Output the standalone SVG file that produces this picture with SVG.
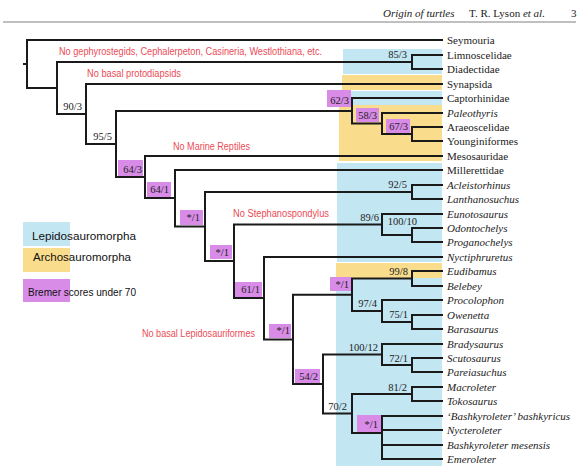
<svg xmlns="http://www.w3.org/2000/svg" width="588" height="471" viewBox="0 0 588 471">
<style>
.bg{fill:#fff}
.blue{fill:#c3e6f3}
.yellow{fill:#fadd8c}
.mag{fill:#d98be8}
.br{stroke:#1a1a1a;stroke-width:2;fill:none;stroke-linecap:square}
.tx{font-family:"Liberation Serif",serif;font-size:11px;fill:#222}
.it{font-style:italic}
.bs{font-family:"Liberation Serif",serif;font-size:10.5px;fill:#222;text-anchor:end}
.red{font-family:"Liberation Sans",sans-serif;font-size:10px;fill:#ec4b55}
.leg{font-family:"Liberation Sans",sans-serif;font-size:11px;fill:#111}
.hd{font-family:"Liberation Serif",serif;font-size:11px;fill:#222}
</style>
<rect class="bg" x="0" y="0" width="588" height="471"/>
<g id="header">
<text class="hd" x="383" y="17"><tspan font-style="italic">Origin of turtles</tspan></text>
<text class="hd" x="469" y="17">T. R. Lyson <tspan font-style="italic">et al.</tspan></text>
<text class="hd" x="571" y="17">3</text>
<line x1="3" y1="22" x2="576" y2="22" stroke="#808080" stroke-width="1"/>
</g>
<g id="backgrounds">
<rect class="blue" x="343" y="49" width="99" height="25"/>
<rect class="yellow" x="342" y="75" width="100" height="15"/>
<rect class="blue" x="342" y="91" width="100" height="14"/>
<rect class="yellow" x="339" y="105" width="103" height="56"/>
<rect class="blue" x="337" y="163" width="105" height="99"/>
<rect class="yellow" x="336" y="263" width="106" height="15"/>
<rect class="blue" x="336" y="278" width="106" height="188"/>
</g>
<g id="connectors">
<path class="br" d="M24,64 H27 M27,40 V88 M27,40 H442 M27,88 H57"/>
<path class="br" d="M57,62 V114 M57,62 H412 M57,114 H86"/>
<path class="br" d="M412,55 V69 M412,55 H442 M412,69 H442"/>
<path class="br" d="M86,84 V144 M86,84 H442 M86,144 H116"/>
<path class="br" d="M116,111 V177 M116,111 H352 M116,177 H145"/>
<path class="br" d="M352,98 V123.5 M352,98 H442 M352,123.5 H382"/>
<path class="br" d="M382,113 V134 M382,113 H442 M382,134 H412"/>
<path class="br" d="M412,127 V141 M412,127 H442 M412,141 H442"/>
<path class="br" d="M145,156 V198 M145,156 H442 M145,198 H175"/>
<path class="br" d="M175,170 V226.5 M175,170 H442 M175,226.5 H205"/>
<path class="br" d="M205,192 V261 M205,192 H412 M205,261 H234"/>
<path class="br" d="M412,185 V199 M412,185 H442 M412,199 H442"/>
<path class="br" d="M234,224.5 V298 M234,224.5 H382 M234,298 H264"/>
<path class="br" d="M382,214 V235 M382,214 H442 M382,235 H412"/>
<path class="br" d="M412,228 V242 M412,228 H442 M412,242 H442"/>
<path class="br" d="M264,257 V339.5 M264,257 H442 M264,339.5 H293"/>
<path class="br" d="M293,294.75 V384 M293,294.75 H352 M293,384 H323"/>
<path class="br" d="M352,278.5 V311 M352,278.5 H412 M352,311 H382"/>
<path class="br" d="M412,271 V286 M412,271 H442 M412,286 H442"/>
<path class="br" d="M382,300 V322 M382,300 H442 M382,322 H412"/>
<path class="br" d="M412,315 V329 M412,315 H442 M412,329 H442"/>
<path class="br" d="M323,354.5 V413.5 M323,354.5 H382 M323,413.5 H352"/>
<path class="br" d="M382,344 V365 M382,344 H442 M382,365 H412"/>
<path class="br" d="M412,358 V372 M412,358 H442 M412,372 H442"/>
<path class="br" d="M352,394 V433 M352,394 H412 M352,433 H382"/>
<path class="br" d="M412,387 V401 M412,387 H442 M412,401 H442"/>
<path class="br" d="M382,416 V459 M382,416 H442 M382,430 H442 M382,445 H442 M382,459 H442"/>
</g>
<g id="support">
<g id="n-limno"><text class="bs" x="407" y="58">85/3</text></g>
<g id="n-2"><text class="bs" x="82" y="110">90/3</text></g>
<g id="n-3"><text class="bs" x="112" y="140">95/5</text></g>
<g id="n-62"><rect class="mag" x="327" y="90" width="24" height="17"/><text class="bs" x="349" y="104">62/3</text></g>
<g id="n-58"><rect class="mag" x="356" y="108" width="23" height="14"/><text class="bs" x="377" y="119">58/3</text></g>
<g id="n-67"><rect class="mag" x="386" y="119" width="24" height="14"/><text class="bs" x="408" y="130">67/3</text></g>
<g id="n-64a"><rect class="mag" x="118" y="160" width="25" height="16"/><text class="bs" x="142" y="173">64/3</text></g>
<g id="n-64b"><rect class="mag" x="147" y="182" width="24" height="15"/><text class="bs" x="169" y="193">64/1</text></g>
<g id="n-s1"><rect class="mag" x="180" y="210" width="23" height="15"/><text class="bs" x="200" y="221">*/1</text></g>
<g id="n-s2"><rect class="mag" x="210" y="245" width="22" height="14"/><text class="bs" x="229" y="256">*/1</text></g>
<g id="n-61"><rect class="mag" x="235" y="282" width="27" height="15"/><text class="bs" x="260" y="293">61/1</text></g>
<g id="n-s3"><rect class="mag" x="269" y="324" width="22" height="14"/><text class="bs" x="290" y="334">*/1</text></g>
<g id="n-s4"><rect class="mag" x="330" y="277" width="21" height="14"/><text class="bs" x="349" y="288">*/1</text></g>
<g id="n-54"><rect class="mag" x="295" y="369" width="25" height="14"/><text class="bs" x="318" y="380">54/2</text></g>
<g id="n-s5"><rect class="mag" x="357" y="415" width="24" height="17"/><text class="bs" x="378" y="428">*/1</text></g>
<g id="n-92"><text class="bs" x="407" y="188">92/5</text></g>
<g id="n-89"><text class="bs" x="379" y="221">89/6</text></g>
<g id="n-100a"><text class="bs" x="417" y="225">100/10</text></g>
<g id="n-99"><text class="bs" x="408" y="275">99/8</text></g>
<g id="n-97"><text class="bs" x="377" y="307">97/4</text></g>
<g id="n-75"><text class="bs" x="408" y="318">75/1</text></g>
<g id="n-100b"><text class="bs" x="378" y="351">100/12</text></g>
<g id="n-72"><text class="bs" x="408" y="362">72/1</text></g>
<g id="n-81"><text class="bs" x="407" y="391">81/2</text></g>
<g id="n-70"><text class="bs" x="347" y="410">70/2</text></g>
</g>
<g id="taxa">
<g id="t-seymouria"><text class="tx" x="447" y="44">Seymouria</text></g>
<g id="t-limnoscelidae"><text class="tx" x="447" y="59">Limnoscelidae</text></g>
<g id="t-diadectidae"><text class="tx" x="447" y="73">Diadectidae</text></g>
<g id="t-synapsida"><text class="tx" x="447" y="88">Synapsida</text></g>
<g id="t-captorhinidae"><text class="tx" x="447" y="102">Captorhinidae</text></g>
<g id="t-paleothyris"><text class="tx it" x="447" y="117">Paleothyris</text></g>
<g id="t-araeoscelidae"><text class="tx" x="447" y="131">Araeoscelidae</text></g>
<g id="t-younginiformes"><text class="tx" x="447" y="145">Younginiformes</text></g>
<g id="t-mesosauridae"><text class="tx" x="447" y="160">Mesosauridae</text></g>
<g id="t-millerettidae"><text class="tx" x="447" y="174">Millerettidae</text></g>
<g id="t-acleistorhinus"><text class="tx it" x="447" y="189">Acleistorhinus</text></g>
<g id="t-lanthanosuchus"><text class="tx it" x="447" y="203">Lanthanosuchus</text></g>
<g id="t-eunotosaurus"><text class="tx it" x="447" y="218">Eunotosaurus</text></g>
<g id="t-odontochelys"><text class="tx it" x="447" y="232">Odontochelys</text></g>
<g id="t-proganochelys"><text class="tx it" x="447" y="246">Proganochelys</text></g>
<g id="t-nyctiphruretus"><text class="tx it" x="447" y="261">Nyctiphruretus</text></g>
<g id="t-eudibamus"><text class="tx it" x="447" y="275">Eudibamus</text></g>
<g id="t-belebey"><text class="tx it" x="447" y="290">Belebey</text></g>
<g id="t-procolophon"><text class="tx it" x="447" y="304">Procolophon</text></g>
<g id="t-owenetta"><text class="tx it" x="447" y="319">Owenetta</text></g>
<g id="t-barasaurus"><text class="tx it" x="447" y="333">Barasaurus</text></g>
<g id="t-bradysaurus"><text class="tx it" x="447" y="348">Bradysaurus</text></g>
<g id="t-scutosaurus"><text class="tx it" x="447" y="362">Scutosaurus</text></g>
<g id="t-pareiasuchus"><text class="tx it" x="447" y="376">Pareiasuchus</text></g>
<g id="t-macroleter"><text class="tx it" x="447" y="391">Macroleter</text></g>
<g id="t-tokosaurus"><text class="tx it" x="447" y="405">Tokosaurus</text></g>
<g id="t-bashkyricus"><text class="tx it" x="447" y="420">‘Bashkyroleter’ bashkyricus</text></g>
<g id="t-nycteroleter"><text class="tx it" x="447" y="434">Nycteroleter</text></g>
<g id="t-mesensis"><text class="tx it" x="447" y="449">Bashkyroleter mesensis</text></g>
<g id="t-emeroleter"><text class="tx it" x="447" y="463">Emeroleter</text></g>
</g>
<g id="annotations">
<text class="red" x="59" y="55" textLength="263" lengthAdjust="spacingAndGlyphs">No gephyrostegids, Cephalerpeton, Casineria, Westlothiana, etc.</text>
<text class="red" x="87" y="77" textLength="94" lengthAdjust="spacingAndGlyphs">No basal protodiapsids</text>
<text class="red" x="173" y="150" textLength="77" lengthAdjust="spacingAndGlyphs">No Marine Reptiles</text>
<text class="red" x="233" y="217" textLength="96" lengthAdjust="spacingAndGlyphs">No Stephanospondylus</text>
<text class="red" x="142" y="337" textLength="113" lengthAdjust="spacingAndGlyphs">No basal Lepidosauriformes</text>
</g>
<g id="legend">
<g id="leg-lepido"><rect class="blue" x="23" y="222" width="47" height="24"/><text class="leg" x="32" y="240" textLength="104" lengthAdjust="spacingAndGlyphs">Lepidosauromorpha</text></g>
<g id="leg-archo"><rect class="yellow" x="23" y="248" width="47" height="24"/><text class="leg" x="33" y="261" textLength="98" lengthAdjust="spacingAndGlyphs">Archosauromorpha</text></g>
<g id="leg-bremer"><rect class="mag" x="23" y="279" width="47" height="23"/><text class="leg" x="28" y="296" textLength="108" lengthAdjust="spacingAndGlyphs">Bremer scores under 70</text></g>
</g>
</svg>
